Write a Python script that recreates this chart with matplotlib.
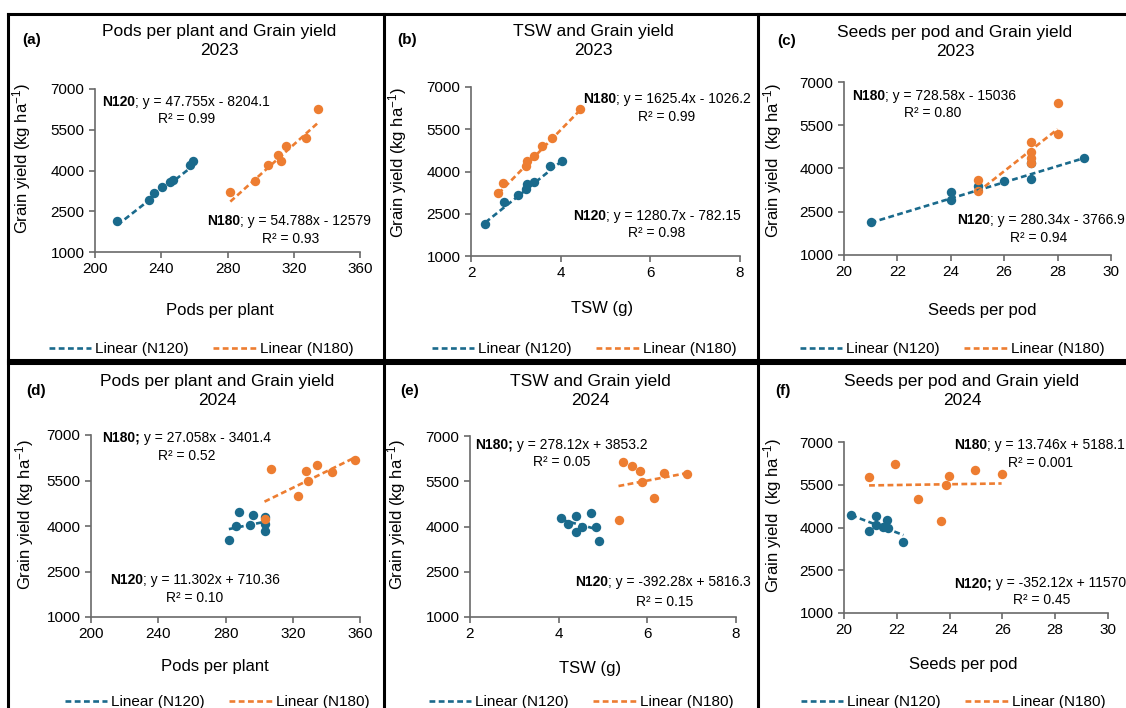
import numpy as np
import matplotlib
matplotlib.use('Agg')
import matplotlib.pyplot as plt
from matplotlib.lines import Line2D

plt.rcParams['font.family'] = ['Liberation Sans', 'DejaVu Sans']
plt.rcParams['mathtext.fontset'] = 'custom'
plt.rcParams['mathtext.rm'] = 'Liberation Sans'
plt.rcParams['mathtext.it'] = 'Liberation Sans:italic'

BLUE = '#1a6a8c'
ORANGE = '#ed7d31'
W, H = 1126, 708

# ---- data ----
# (a) pods per plant 2023
a_x120 = [213.5, 232.8, 235.8, 240.6, 245.3, 246.9, 257.3, 259.4]
a_y120 = [2141, 2914, 3184, 3405, 3564, 3650, 4190, 4362]
a_x180 = [281.7, 296.8, 304.4, 310.5, 312.3, 315.1, 327.2, 334.6]
a_y180 = [3221, 3613, 4190, 4571, 4362, 4914, 5196, 6264]
# (b) TSW 2023
b_x120 = [2.32, 2.74, 3.05, 3.23, 3.26, 3.40, 3.77, 4.04]
b_y120 = [2143, 2933, 3180, 3380, 3557, 3616, 4183, 4360]
b_x180 = [2.61, 2.71, 3.23, 3.25, 3.40, 3.58, 3.80, 4.44]
b_y180 = [3228, 3582, 4183, 4360, 4537, 4914, 5173, 6210]
# (c) seeds per pod 2023
c_x120 = [21, 24, 24, 25, 26, 27, 27, 29]
c_y120 = [2141, 2914, 3184, 3405, 3564, 3650, 4190, 4362]
c_x180 = [25, 25, 27, 27, 27, 27, 28, 28]
c_y180 = [3221, 3613, 4190, 4362, 4571, 4914, 5196, 6264]
# (d) pods per plant 2024
d_x120 = [282.0, 286.1, 287.9, 294.3, 296.6, 303.2, 303.2, 303.2]
d_y120 = [3523, 3984, 4456, 4017, 4357, 4290, 4071, 3841]
d_x180 = [303.2, 306.8, 323.4, 327.9, 329.1, 334.4, 343.4, 356.8]
d_y180 = [4235, 5870, 4981, 5804, 5497, 6013, 5771, 6184]
# (e) TSW 2024
e_x120 = [4.06, 4.20, 4.39, 4.39, 4.53, 4.74, 4.84, 4.90]
e_y120 = [4276, 4077, 4342, 3834, 4000, 4452, 3967, 3526]
e_x180 = [5.35, 5.44, 5.65, 5.84, 5.89, 6.14, 6.38, 6.89]
e_y180 = [4210, 6151, 6008, 5842, 5478, 4960, 5787, 5732]
# (f) seeds per pod 2024
f_x120 = [20.27, 20.93, 21.22, 21.22, 21.48, 21.64, 21.65, 22.25]
f_y120 = [4450, 3865, 4392, 4099, 4018, 4275, 3982, 3491]
f_x180 = [20.95, 21.94, 22.79, 23.67, 23.86, 23.99, 24.95, 25.97]
f_y180 = [5771, 6216, 5000, 4228, 5503, 5795, 6029, 5888]

# trend line coefficients (slope, intercept) as printed
fit120 = [(47.755, -8204.1), (1280.7, -782.15), (280.34, -3766.9),
          (11.302, 710.36), (-392.28, 5816.3), (-352.12, 11570)]
fit180 = [(54.788, -12579), (1625.4, -1026.2), (728.58, -15036),
          (27.058, -3401.4), (278.12, 3853.2), (13.746, 5188.1)]
eq120 = ['; y = 47.755x - 8204.1', '; y = 1280.7x - 782.15', '; y = 280.34x - 3766.9',
         '; y = 11.302x + 710.36', '; y = -392.28x + 5816.3', ' y = -352.12x + 11570']
eq180 = ['; y = 54.788x - 12579', '; y = 1625.4x - 1026.2', '; y = 728.58x - 15036',
         ' y = 27.058x - 3401.4', ' y = 278.12x + 3853.2', '; y = 13.746x + 5188.1']
bold120 = ['N120', 'N120', 'N120', 'N120', 'N120', 'N120;']
bold180 = ['N180', 'N180', 'N180', 'N180;', 'N180;', 'N180']
r2_120 = ['R² = 0.99', 'R² = 0.98', 'R² = 0.94', 'R² = 0.10', 'R² = 0.15', 'R² = 0.45']
r2_180 = ['R² = 0.93', 'R² = 0.99', 'R² = 0.80', 'R² = 0.52', 'R² = 0.05', 'R² = 0.001']

titles = ['Pods per plant and Grain yield\n2023', 'TSW and Grain yield\n2023',
          'Seeds per pod and Grain yield\n2023', 'Pods per plant and Grain yield\n2024',
          'TSW and Grain yield\n2024', 'Seeds per pod and Grain yield\n2024']
letters = ['(a)', '(b)', '(c)', '(d)', '(e)', '(f)']
xlabels = ['Pods per plant', 'TSW (g)', 'Seeds per pod'] * 2
ylabels = [r'Grain yield (kg ha$^{-1}$)', r'Grain yield (kg ha$^{-1}$)',
           r'Grain yield  (kg ha$^{-1}$)'] * 2
xlims = [(200, 360), (2, 8), (20, 30)] * 2
xticks = [[200, 240, 280, 320, 360], [2, 4, 6, 8], [20, 22, 24, 26, 28, 30]] * 2
yticks = [1000, 2500, 4000, 5500, 7000]

series = [(a_x120, a_y120, a_x180, a_y180), (b_x120, b_y120, b_x180, b_y180),
          (c_x120, c_y120, c_x180, c_y180), (d_x120, d_y120, d_x180, d_y180),
          (e_x120, e_y120, e_x180, e_y180), (f_x120, f_y120, f_x180, f_y180)]

# layout in pixels
ax_box = [(95, 360, 89, 252), (471, 740, 87, 256), (844, 1111, 82, 255),
          (91, 360, 435, 617), (470, 736, 436, 617), (844, 1108, 442, 613)]
title_pos = [(219, 41), (593, 41), (955, 42), (217, 391), (590, 391), (962, 391)]
letter_pos = [(32, 40), (407, 40), (787, 41), (36, 391), (410, 391), (783, 391)]
ylab_pos = [(22, 159), (398, 163), (773, 160), (25, 515), (397, 515), (773, 515)]
xlab_pos = [(220, 310), (602, 308), (982, 311), (215, 667), (590, 668), (963, 665)]
leg_pos = [(201, 349), (584, 349), (952, 349), (217, 702), (581, 702), (953, 702)]
t120_pos = [(102, 102), (573, 216), (957, 220), (110, 580), (575, 582), (954, 583)]
r120_pos = [(187, 119), (657, 233), (1039, 238), (195, 598), (665, 602), (1042, 600)]
t180_pos = [(207, 221), (583, 99), (852, 96), (102, 438), (475, 445), (954, 445)]
r180_pos = [(291, 239), (667, 117), (933, 113), (187, 456), (562, 462), (1040, 463)]


def fx(px):
    return px / W


def fy(py):
    return 1 - py / H


fig = plt.figure(figsize=(11.26, 7.08), dpi=100)

# panel frames
frame = dict(color='black', lw=2.2, transform=fig.transFigure)
for top, bot in [(14, 360), (363, 720)]:
    fig.add_artist(Line2D([fx(8), fx(1130)], [fy(top), fy(top)], **frame))
    fig.add_artist(Line2D([fx(8), fx(1130)], [fy(bot), fy(bot)], **frame))
    for xv in [8, 384, 758]:
        fig.add_artist(Line2D([fx(xv), fx(xv)], [fy(top), fy(bot)], **frame))

dash = (0, (2.2, 1.3))
for i in range(6):
    l, r, t, b = ax_box[i]
    ax = fig.add_axes([fx(l), fy(b), (r - l) / W, (b - t) / H])
    x1, y1, x2, y2 = series[i]
    ax.scatter(x1, y1, s=46, color=BLUE, zorder=3, linewidths=0)
    ax.scatter(x2, y2, s=46, color=ORANGE, zorder=3, linewidths=0)
    for xs, (m, c), col in [(x1, fit120[i], BLUE), (x2, fit180[i], ORANGE)]:
        xx = np.array([min(xs), max(xs)])
        ax.plot(xx, m * xx + c, color=col, lw=1.9, ls=dash, zorder=4)
    ax.set_xlim(*xlims[i])
    ax.set_ylim(1000, 7000)
    ax.set_xticks(xticks[i])
    ax.set_yticks(yticks)
    for s in ['top', 'right']:
        ax.spines[s].set_visible(False)
    for s in ['left', 'bottom']:
        ax.spines[s].set_color('#6a6a6a')
        ax.spines[s].set_linewidth(1.2)
    ax.tick_params(colors='#6a6a6a', labelcolor='black', labelsize=11,
                   length=4, width=1.2)
    ax.patch.set_alpha(0)

    fig.text(fx(title_pos[i][0]), fy(title_pos[i][1]), titles[i], ha='center',
             va='center', fontsize=12.5, linespacing=1.35)
    fig.text(fx(letter_pos[i][0]), fy(letter_pos[i][1]), letters[i], ha='center',
             va='center', fontsize=11, weight='bold')
    fig.text(fx(ylab_pos[i][0]), fy(ylab_pos[i][1]), ylabels[i], ha='center',
             va='center', rotation=90, fontsize=12)
    fig.text(fx(xlab_pos[i][0]), fy(xlab_pos[i][1]), xlabels[i], ha='center',
             va='center', fontsize=12)

    for bpos, bw, eq, rpos, rtxt in [(t120_pos[i], bold120[i], eq120[i], r120_pos[i], r2_120[i]),
                                     (t180_pos[i], bold180[i], eq180[i], r180_pos[i], r2_180[i])]:
        tb = fig.text(fx(bpos[0]), fy(bpos[1]), bw, ha='left', va='center',
                      fontsize=10, weight='bold')
        ax.annotate(eq, xy=(1, 0.5), xycoords=tb, ha='left', va='center',
                    fontsize=10, annotation_clip=False)
        fig.text(fx(rpos[0]), fy(rpos[1]), rtxt, ha='center', va='center',
                 fontsize=10)

    handles = [Line2D([], [], color=BLUE, lw=1.9, ls=dash),
               Line2D([], [], color=ORANGE, lw=1.9, ls=dash)]
    fig.legend(handles, ['Linear (N120)', 'Linear (N180)'], loc='center',
               bbox_to_anchor=(fx(leg_pos[i][0]), fy(leg_pos[i][1])), ncol=2,
               frameon=False, fontsize=11, handlelength=2.8, handletextpad=0.25,
               columnspacing=1.6, borderaxespad=0, borderpad=0)

fig.savefig('out.png', dpi=100)
